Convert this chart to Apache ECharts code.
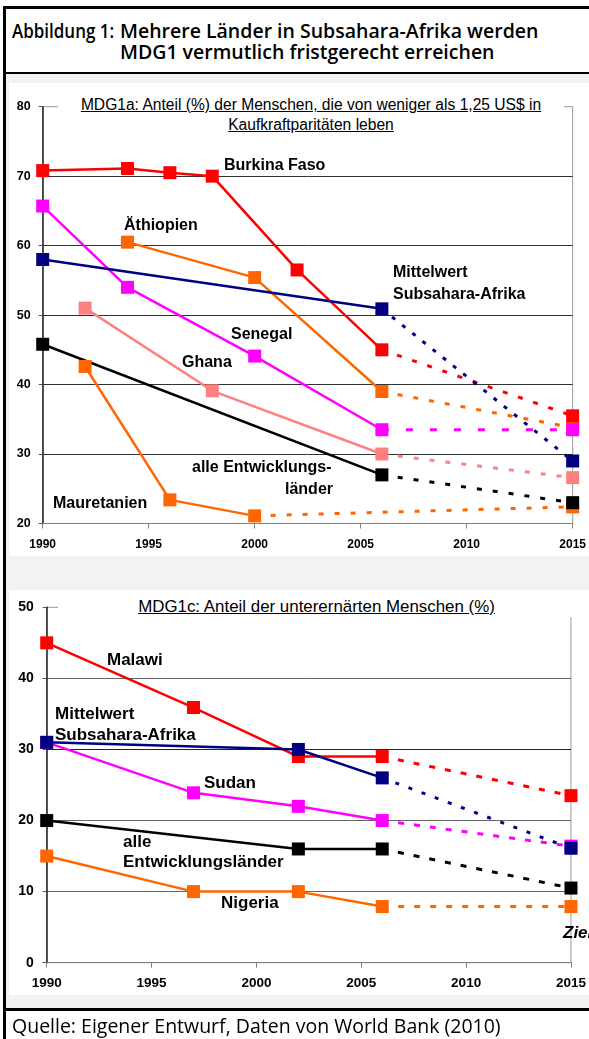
<!DOCTYPE html>
<html><head><meta charset="utf-8">
<script src="https://cdn.jsdelivr.net/npm/echarts@6/dist/echarts.min.js"></script>
<style>
html,body{margin:0;padding:0;background:#fff;}
#page{position:relative;width:589px;height:1039px;overflow:hidden;background:#fff;}
.abs{position:absolute;}
.hdr{font-family:"Open Sans","Noto Sans",sans-serif;font-weight:600;font-size:19.5px;color:#000;white-space:nowrap;line-height:22px;}
.ctitle{font-family:"Liberation Sans",Arial,sans-serif;font-size:15.6px;color:#000;text-decoration:underline;white-space:nowrap;text-align:center;background:#fff;line-height:20px;}
</style></head>
<body><div id="page">
<div class="abs" style="left:3px;top:6px;width:700px;height:1100px;border-left:3px solid #000;border-top:3px solid #000;"></div>
<div class="abs hdr" style="left:12px;top:20px;transform:scaleX(0.87);transform-origin:left center;">Abbildung 1:</div>
<div class="abs hdr" style="left:120px;top:20px;">Mehrere Länder in Subsahara-Afrika werden</div>
<div class="abs hdr" style="left:120px;top:41px;">MDG1 vermutlich fristgerecht erreichen</div>
<div class="abs" style="left:6px;top:72px;width:600px;height:2px;background:#000;"></div>
<div class="abs" style="left:6px;top:74px;width:600px;height:934px;background:#f2f2f2;"></div>
<div class="abs" style="left:9px;top:83px;width:600px;height:473px;background:#fff;"></div>
<div class="abs" style="left:9px;top:590px;width:600px;height:405px;background:#fff;"></div>
<div id="chart" class="abs" style="left:0;top:0;width:589px;height:1039px;"></div>
<div class="abs ctitle" style="left:58px;top:95px;width:506px;">MDG1a: Anteil (%) der Menschen, die von weniger als 1,25 US$ in<br>Kaufkraftparitäten leben</div>
<div class="abs ctitle" style="left:58px;top:597px;width:517px;font-size:16.9px;">MDG1c: Anteil der unterernärten Menschen (%)</div>
<div class="abs" style="left:6px;top:1008px;width:600px;height:3px;background:#000;"></div>
<div class="abs" style="left:12px;top:1012px;font-family:'Open Sans','Noto Sans',sans-serif;font-size:19.5px;color:#000;white-space:nowrap;line-height:28px;">Quelle: Eigener Entwurf, Daten von World Bank (2010)</div>
</div>
<script>
// ---------- Data: Chart 1 (MDG1a, % living below 1.25 US$ PPP) ----------
const targetYear = 2015;
const yTicks1 = [20, 80, 10];  // min, max, interval
const xTicks = [1990, 2015, 5];

const burkinaYears = [1990, 1994, 1996, 1998, 2002, 2006];
const burkinaVals  = [70.8, 71.1, 70.5, 70.0, 56.5, 45.0];
const burkinaZiel  = 35.5;

const aethiopienYears = [1994, 2000, 2006];
const aethiopienVals  = [60.5, 55.4, 39.0];
const aethiopienZiel  = 33.8;

const mittelwert1Years = [1990, 2006];
const mittelwert1Vals  = [58.0, 50.9];
const mittelwert1Ziel  = 29.0;

const senegalYears = [1990, 1994, 2000, 2006];
const senegalVals  = [65.7, 54.0, 44.1, 33.5];
const senegalZiel  = 33.5;

const ghanaYears = [1992, 1998, 2006];
const ghanaVals  = [51.0, 39.1, 30.0];
const ghanaZiel  = 26.6;

const alle1Years = [1990, 2006];
const alle1Vals  = [45.8, 27.0];
const alle1Ziel  = 23.0;

const mauretanienYears = [1992, 1996, 2000];
const mauretanienVals  = [42.6, 23.4, 21.1];
const mauretanienZiel  = 22.4;

// ---------- Data: Chart 2 (MDG1c, % undernourished) ----------
const yTicks2 = [0, 50, 10];

const malawiYears = [1990, 1997, 2002, 2006];
const malawiVals  = [45.0, 35.9, 29.0, 29.0];
const malawiZiel  = 23.5;

const mittelwert2Years = [1990, 2002, 2006];
const mittelwert2Vals  = [31.0, 30.0, 26.0];
const mittelwert2Ziel  = 16.1;

const sudanYears = [1990, 1997, 2002, 2006];
const sudanVals  = [31.0, 23.9, 22.0, 20.0];
const sudanZiel  = 16.4;

const alle2Years = [1990, 2002, 2006];
const alle2Vals  = [20.0, 16.0, 16.0];
const alle2Ziel  = 10.5;

const nigeriaYears = [1990, 1997, 2002, 2006];
const nigeriaVals  = [15.0, 10.0, 10.0, 7.9];
const nigeriaZiel  = 7.9;

// ---------- Colours ----------
const RED = '#ff0000', ORANGE = '#ff6600', MAGENTA = '#ff00ff', NAVY = '#000080', SALMON = '#ff8080', BLACK = '#000000';

function solid(years, vals, color, idx) {
  return {
    type: 'line', xAxisIndex: idx, yAxisIndex: idx, animation: false,
    data: years.map((y, i) => [y, vals[i]]),
    symbol: 'rect', symbolSize: 13,
    lineStyle: { color: color, width: 2.5 },
    itemStyle: { color: color }
  };
}
function proj(years, vals, ziel, color, dash, idx) {
  const last = years.length - 1;
  return {
    type: 'line', xAxisIndex: idx, yAxisIndex: idx, animation: false,
    data: [{ value: [years[last], vals[last]], symbol: 'none' }, { value: [targetYear, ziel] }],
    symbol: 'rect', symbolSize: 13,
    lineStyle: { color: color, width: 3, type: dash },
    itemStyle: { color: color }
  };
}

const labelFont = (s, style) => (style || 'bold') + ' ' + s + 'px "Liberation Sans", Arial, sans-serif';
function txt(text, x, y, size, align, style) {
  return { type: 'text', z: 50, style: { text: text, x: x, y: y, font: labelFont(size, style), fill: '#000', textAlign: align || 'left', textVerticalAlign: 'middle' } };
}

const chart = echarts.init(document.getElementById('chart'));

function xAxis(idx, fs, margin) {
  return {
    type: 'value', gridIndex: idx, min: xTicks[0], max: xTicks[1], interval: xTicks[2],
    axisLine: { show: true, lineStyle: { color: '#808080', width: 1 } },
    axisTick: { show: true, length: 5, lineStyle: { color: '#808080' } },
    axisLabel: { color: '#000', fontWeight: 'bold', fontSize: fs, fontFamily: 'Liberation Sans', margin: margin, showMaxLabel: true, showMinLabel: true, formatter: v => String(v) },
    splitLine: { show: false }
  };
}
function yAxis(idx, t, fs, margin, gridColors) {
  return {
    type: 'value', gridIndex: idx, min: t[0], max: t[1], interval: t[2],
    axisLine: { show: true, onZero: false, lineStyle: { color: '#222', width: 1.5 } },
    axisTick: { show: true, length: 4, lineStyle: { color: '#555' } },
    axisLabel: { color: '#000', fontWeight: 'bold', fontSize: fs, fontFamily: 'Liberation Sans', margin: margin, formatter: v => String(v) },
    splitLine: { show: true, lineStyle: { color: gridColors, width: 1 } }
  };
}

chart.setOption({
  backgroundColor: 'transparent',
  animation: false,
  grid: [
    { left: 42.7, top: 106.7, width: 533.3, height: 416.8, show: true, borderColor: '#999', borderWidth: 1, backgroundColor: 'transparent' },
    { left: 46.7, top: 607.3, width: 532, height: 355.4, show: true, borderColor: '#999', borderWidth: 1, backgroundColor: 'transparent' }
  ],
  xAxis: [xAxis(0, 12, 15), xAxis(1, 13.5, 14)],
  yAxis: [
    yAxis(0, yTicks1, 12.5, 12, ['#888', '#333', '#333', '#333', '#333', '#333', '#aaa']),
    yAxis(1, yTicks2, 14, 13, ['#888', '#666', '#666', '#222', '#666', '#aaa'])
  ],
  series: [
    solid(mauretanienYears, mauretanienVals, ORANGE, 0),
    proj(mauretanienYears, mauretanienVals, mauretanienZiel, ORANGE, [5, 11], 0),
    solid(aethiopienYears, aethiopienVals, ORANGE, 0),
    proj(aethiopienYears, aethiopienVals, aethiopienZiel, ORANGE, [5, 11], 0),
    solid(ghanaYears, ghanaVals, SALMON, 0),
    proj(ghanaYears, ghanaVals, ghanaZiel, SALMON, [5, 11], 0),
    solid(alle1Years, alle1Vals, BLACK, 0),
    proj(alle1Years, alle1Vals, alle1Ziel, BLACK, [5, 11], 0),
    solid(senegalYears, senegalVals, MAGENTA, 0),
    proj(senegalYears, senegalVals, senegalZiel, MAGENTA, [7, 17], 0),
    solid(burkinaYears, burkinaVals, RED, 0),
    proj(burkinaYears, burkinaVals, burkinaZiel, RED, [5, 11], 0),
    solid(mittelwert1Years, mittelwert1Vals, NAVY, 0),
    proj(mittelwert1Years, mittelwert1Vals, mittelwert1Ziel, NAVY, [4, 9], 0),

    solid(nigeriaYears, nigeriaVals, ORANGE, 1),
    proj(nigeriaYears, nigeriaVals, nigeriaZiel, ORANGE, [6, 10], 1),
    solid(alle2Years, alle2Vals, BLACK, 1),
    proj(alle2Years, alle2Vals, alle2Ziel, BLACK, [6, 10], 1),
    solid(sudanYears, sudanVals, MAGENTA, 1),
    proj(sudanYears, sudanVals, sudanZiel, MAGENTA, [6, 10], 1),
    solid(malawiYears, malawiVals, RED, 1),
    proj(malawiYears, malawiVals, malawiZiel, RED, [6, 10], 1),
    solid(mittelwert2Years, mittelwert2Vals, NAVY, 1),
    proj(mittelwert2Years, mittelwert2Vals, mittelwert2Ziel, NAVY, [4, 10], 1)
  ],
  graphic: [
    txt('Burkina Faso', 224, 166, 16),
    txt('Äthiopien', 124, 226, 16),
    txt('Mittelwert', 393, 273, 16),
    txt('Subsahara-Afrika', 393, 295, 16),
    txt('Senegal', 231, 335, 16),
    txt('Ghana', 182, 363, 16),
    txt('alle Entwicklungs-', 192, 468, 16),
    txt('länder', 333, 490, 16, 'right'),
    txt('Mauretanien', 53, 504, 16),

    txt('Malawi', 107, 660, 17),
    txt('Mittelwert', 55, 714, 17),
    txt('Subsahara-Afrika', 55, 735, 17),
    txt('Sudan', 204, 783, 17),
    txt('alle', 123, 842, 17),
    txt('Entwicklungsländer', 123, 862, 17),
    txt('Nigeria', 221, 903, 17),
    txt('Ziel', 563, 933, 17, 'left', 'italic bold')
  ]
});
</script>
</body></html>
